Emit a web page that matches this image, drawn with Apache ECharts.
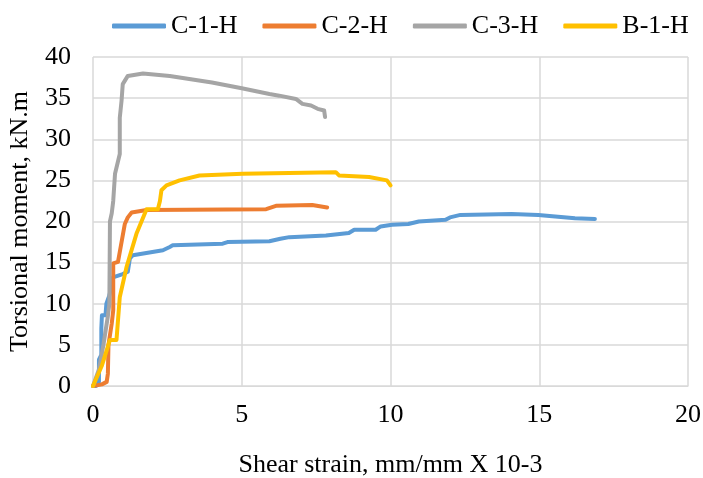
<!DOCTYPE html>
<html lang="en">
  <head>
    <meta charset="UTF-8" />
    <title>Torsional moment vs shear strain</title>
    <style>
      body {
        margin: 0;
        overflow: hidden;
        background: #fff;
      }
    </style>
    <script src="https://cdn.jsdelivr.net/npm/echarts@6/dist/echarts.min.js"></script>
  </head>

  <body>
    <div id="chart" style="width: 703px; height: 478px"></div>
    <script>
      // series names
      var names = ["C-1-H", "C-2-H", "C-3-H", "B-1-H"];

      // shear strain (x) and torsional moment (y)
      var c1x = [0, 0.1, 0.2, 0.2, 0.28, 0.28, 0.33, 0.3, 0.42, 0.45, 0.55, 0.67, 1.0, 1.17, 1.24, 1.34, 2.35, 2.58, 2.68, 4.36, 4.52, 5.93, 6.3, 6.6, 7.83, 8.6, 8.78, 9.5, 9.67, 10.05, 10.6, 10.95, 11.85, 12.0, 12.35, 14.07, 14.97, 16.2, 16.87];
      var c1y = [0, 0, 0.5, 3.2, 3.8, 7, 7.2, 8.6, 8.6, 10, 11, 13.2, 13.6, 13.9, 15.5, 15.9, 16.5, 16.9, 17.1, 17.3, 17.5, 17.6, 17.9, 18.1, 18.3, 18.6, 19.0, 19.0, 19.4, 19.6, 19.7, 20.0, 20.2, 20.5, 20.8, 20.9, 20.8, 20.4, 20.3];

      var c2x = [0, 0.3, 0.46, 0.5, 0.52, 0.63, 0.68, 0.68, 0.84, 0.9, 1.07, 1.17, 1.3, 1.34, 1.8, 5.82, 6.15, 7.37, 7.87];
      var c2y = [0, 0.2, 0.5, 1.5, 5, 7.6, 9.2, 14.9, 15.1, 15.3, 19.7, 20.5, 21.1, 21.3, 21.4, 21.5, 21.9, 22.0, 21.7];

      var c3x = [0, 0.2, 0.35, 0.5, 0.55, 0.57, 0.63, 0.68, 0.74, 0.9, 0.9, 0.96, 1.0, 1.17, 1.68, 2.58, 4.0, 5.0, 5.93, 6.26, 6.82, 7.04, 7.33, 7.55, 7.77, 7.8];
      var c3y = [0, 2, 5, 8.5, 10, 20, 21, 22.5, 25.8, 28.2, 32.6, 34.7, 36.7, 37.7, 38.0, 37.7, 36.9, 36.2, 35.5, 35.3, 34.9, 34.3, 34.1, 33.7, 33.5, 32.7];

      var b1x = [0, 0.3, 0.57, 0.79, 0.9, 1.13, 1.46, 1.8, 2.18, 2.25, 2.3, 2.47, 2.91, 3.58, 5.03, 8.16, 8.27, 9.28, 9.88, 10.0];
      var b1y = [0, 2.5, 5.6, 5.6, 10.8, 14.5, 18.5, 21.5, 21.5, 22.5, 23.8, 24.4, 25.0, 25.6, 25.8, 26.0, 25.6, 25.4, 25.0, 24.4];

      var colors = ["#5B9BD5", "#ED7D31", "#A5A5A5", "#FFC000"];
      var xs = [c1x, c2x, c3x, b1x];
      var ys = [c1y, c2y, c3y, b1y];

      function pairs(x, y) {
        return x.map(function (v, i) {
          return [v, y[i]];
        });
      }

      var font = "Liberation Serif";

      var series = names.map(function (n, i) {
        return {
          name: n,
          type: "line",
          data: pairs(xs[i], ys[i]),
          showSymbol: false,
          symbol: "none",
          lineStyle: { color: colors[i], width: 4, cap: "round", join: "round" },
          itemStyle: { color: colors[i] },
        };
      });

      var option = {
        animation: false,
        backgroundColor: "#fff",
        legend: {
          left: 107,
          top: 8,
          icon: "roundRect",
          itemWidth: 54,
          itemHeight: 5,
          itemGap: 25,
          textStyle: { fontFamily: font, fontSize: 26, color: "#000" },
          data: names,
        },
        grid: { left: 93, right: 15, top: 57, bottom: 92, outerBoundsMode: "none" },
        xAxis: {
          type: "value",
          min: 0,
          max: 20,
          interval: 5,
          name: "Shear strain, mm/mm X 10-3",
          nameLocation: "middle",
          nameGap: 66,
          nameTextStyle: { fontFamily: font, fontSize: 26, color: "#000" },
          axisLine: { show: true, lineStyle: { color: "#d9d9d9" } },
          axisTick: { show: false },
          axisLabel: { fontFamily: font, fontSize: 26, color: "#000", margin: 16 },
          splitLine: { lineStyle: { color: "#d9d9d9", width: 1.5 } },
        },
        yAxis: {
          type: "value",
          min: 0,
          max: 40,
          interval: 5,
          name: "Torsional moment, kN.m",
          nameLocation: "middle",
          nameGap: 60,
          nameTextStyle: { fontFamily: font, fontSize: 26, color: "#000" },
          axisLine: { show: false },
          axisTick: { show: false },
          axisLabel: { fontFamily: font, fontSize: 26, color: "#000", margin: 22 },
          splitLine: { lineStyle: { color: "#d9d9d9", width: 1.5 } },
        },
        series: series,
      };

      var myChart = echarts.init(document.getElementById("chart"));
      myChart.setOption(option);
    </script>
  </body>
</html>
